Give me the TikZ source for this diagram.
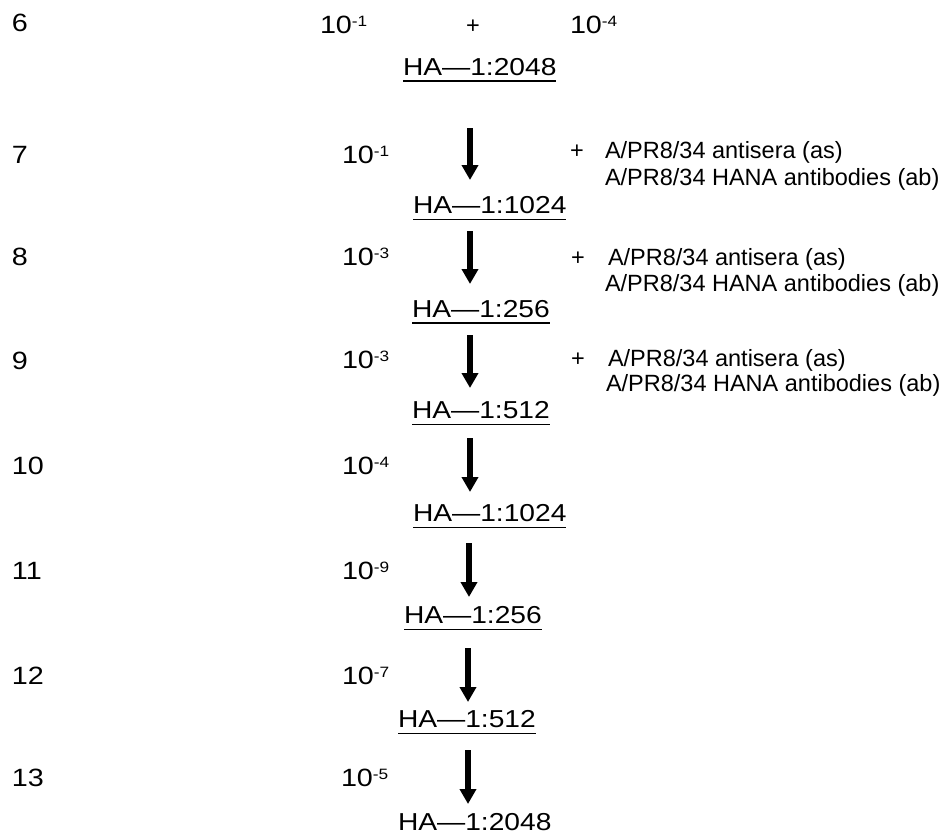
\documentclass[tikz,border=0pt]{standalone}
\usepackage{fontspec}
\setmainfont{Liberation Sans}[FakeStretch=1.15]
\newfontfamily\rfont{Liberation Sans}
\usetikzlibrary{arrows.meta}
\newcommand\pw[1]{\raisebox{7pt}{\fontsize{15}{15}\selectfont #1}}
\tikzset{
  txt/.style={inner sep=0pt, outer sep=0pt, anchor=base west, font=\fontsize{25}{30}\selectfont},
  ha/.style={inner sep=0pt, outer sep=0pt, anchor=base west, font=\fontsize{24.5}{29}\selectfont},
  rtxt/.style={inner sep=0pt, outer sep=0pt, anchor=base west, font=\rfont\fontsize{23.5}{27}\selectfont},
  plus/.style={inner sep=0pt, outer sep=0pt, anchor=base, font=\rfont\fontsize{23.5}{27}\selectfont},
  uline/.style={line width=1.8pt},
  bigarrow/.style={line width=5.5pt, -{Triangle[width=16pt,length=15pt]}}
}
\begin{document}
\begin{tikzpicture}[x=1pt,y=-1pt]
\useasboundingbox[fill=white] (0,0) rectangle (948,835);
% row 6
\node[txt] (n6) at (12,31) {6};
\node[txt] (d6a) at (320,33) {10\pw{-1}};
\node[plus] (p6) at (473,33) {+};
\node[txt] (d6b) at (570,33) {10\pw{-4}};
\node[ha] (h6) at (403,75) {HA—1:2048};
\draw[uline] ([yshift=-6pt]h6.base west) -- ([yshift=-6pt]h6.base east);
% row labels
\node[txt] (n7) at (12,163) {7};
\node[txt] (n8) at (12,265) {8};
\node[txt] (n9) at (12,369) {9};
\node[txt] (n10) at (12,474) {10};
\node[txt] (n11) at (12,579) {11};
\node[txt] (n12) at (12,684) {12};
\node[txt] (n13) at (12,786) {13};
% dilutions
\node[txt] (d7) at (342,163) {10\pw{-1}};
\node[txt] (d8) at (342,265) {10\pw{-3}};
\node[txt] (d9) at (342,368) {10\pw{-3}};
\node[txt] (d10) at (342,474) {10\pw{-4}};
\node[txt] (d11) at (342,579) {10\pw{-9}};
\node[txt] (d12) at (342,684) {10\pw{-7}};
\node[txt] (d13) at (341,786) {10\pw{-5}};
% HA titres
\node[ha] (h7) at (413,213.5) {HA—1:1024};
\node[ha] (h8) at (412,317) {HA—1:256};
\node[ha] (h9) at (412,418.5) {HA—1:512};
\node[ha] (h10) at (413,521.5) {HA—1:1024};
\node[ha] (h11) at (404,623.5) {HA—1:256};
\node[ha] (h12) at (398,727.5) {HA—1:512};
\node[ha] (h13) at (398,830.5) {HA—1:2048};
\foreach \h in {h7,h8,h9,h10,h11,h12}{
  \draw[uline] ([yshift=-6pt]\h.base west) -- ([yshift=-6pt]\h.base east);
}
% arrows
\coordinate (a7s) at (470,128); \coordinate (a7e) at (470,180);
\coordinate (a8s) at (470,231); \coordinate (a8e) at (470,284);
\coordinate (a9s) at (470,335); \coordinate (a9e) at (470,388);
\coordinate (a10s) at (470,438); \coordinate (a10e) at (470,492);
\coordinate (a11s) at (469,543); \coordinate (a11e) at (469,597);
\coordinate (a12s) at (468,648); \coordinate (a12e) at (468,702);
\coordinate (a13s) at (468,750); \coordinate (a13e) at (468,804);
\foreach \a in {7,8,9,10,11,12,13}{
  \draw[bigarrow] (a\a s) -- (a\a e);
}
% antisera notes
\node[plus] (p7) at (577,158) {+};
\node[rtxt] (s7) at (605,158) {A/PR8/34 antisera (as)};
\node[rtxt] (b7) at (605,185) {A/PR8/34 HANA antibodies (ab)};
\node[plus] (p8) at (578,265) {+};
\node[rtxt] (s8) at (608,265) {A/PR8/34 antisera (as)};
\node[rtxt] (b8) at (605,291) {A/PR8/34 HANA antibodies (ab)};
\node[plus] (p9) at (578,366) {+};
\node[rtxt] (s9) at (608,366) {A/PR8/34 antisera (as)};
\node[rtxt] (b9) at (606,391) {A/PR8/34 HANA antibodies (ab)};
\end{tikzpicture}
\end{document}
